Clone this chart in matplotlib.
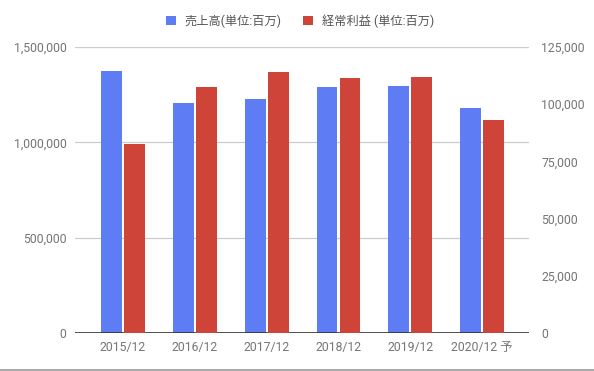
import matplotlib
matplotlib.use("Agg")
import matplotlib.pyplot as plt
from matplotlib.ticker import FuncFormatter, FixedLocator
from matplotlib.patches import Patch
import numpy as np

plt.rcParams['font.family'] = ['Roboto', 'Noto Sans CJK JP', 'DejaVu Sans']

categories = ["2015/12", "2016/12", "2017/12", "2018/12", "2019/12", "2020/12 予"]
sales = [1374000, 1206000, 1227000, 1290000, 1295000, 1180000]
ordinary_profit = [82600, 107500, 114100, 111500, 111900, 93100]
left_ticks = [0, 500000, 1000000, 1500000]
right_ticks = [0, 25000, 50000, 75000, 100000, 125000]
series_names = ["売上高(単位:百万)", "経常利益 (単位:百万)"]

blue = "#5e7cf4"
red = "#cf4439"
txt = "#757575"

fig = plt.figure(figsize=(5.94, 3.71), dpi=100)
ax = fig.add_axes([75/594, 1-333/371, (529-75)/594, (333-47)/371])
ax2 = ax.twinx()

x = np.arange(len(categories))
w = 0.29
off = 0.16
ax.bar(x - off, sales, width=w, color=blue, zorder=3)
ax2.bar(x + off, ordinary_profit, width=w, color=red, zorder=3)

ax.set_xlim(-0.67, len(categories) - 1 + 0.655)
ax.set_ylim(0, 1500000)
ax2.set_ylim(0, 125000)

ax.yaxis.set_major_locator(FixedLocator(left_ticks))
ax2.yaxis.set_major_locator(FixedLocator(right_ticks))
fmt = FuncFormatter(lambda v, p: f"{int(v):,}")
ax.yaxis.set_major_formatter(fmt)
ax2.yaxis.set_major_formatter(fmt)

ax.grid(axis='y', color="#cccccc", linewidth=0.9, zorder=0)
ax.set_axisbelow(True)
ax.axhline(0, color="#333333", linewidth=1.2, zorder=5)

for a in (ax, ax2):
    for s in a.spines.values():
        s.set_visible(False)
    a.tick_params(axis='both', length=0, colors=txt, labelsize=8.8)

ax.set_xticks(x)
ax.set_xticklabels(categories)
ax.tick_params(axis='x', pad=6)
ax.tick_params(axis='y', pad=6)
ax2.tick_params(axis='y', pad=9)

# ensure twin bars drawn on top of grid
ax2.set_zorder(ax.get_zorder() + 1)
ax2.patch.set_visible(False)

handles = [Patch(facecolor=blue, edgecolor='none'), Patch(facecolor=red, edgecolor='none')]
leg = fig.legend(handles, series_names, loc='center', bbox_to_anchor=(0.505, 1-21/371),
                 ncol=2, frameon=False, fontsize=8.8, handlelength=0.8, handleheight=0.8,
                 handletextpad=0.7, columnspacing=1.8)
for t in leg.get_texts():
    t.set_color("#555555")

# bottom border line
fig.add_artist(plt.Line2D([0, 1], [1/371, 1/371], color="#999999", linewidth=1.2,
                          transform=fig.transFigure))

fig.savefig("out.png", dpi=100)
